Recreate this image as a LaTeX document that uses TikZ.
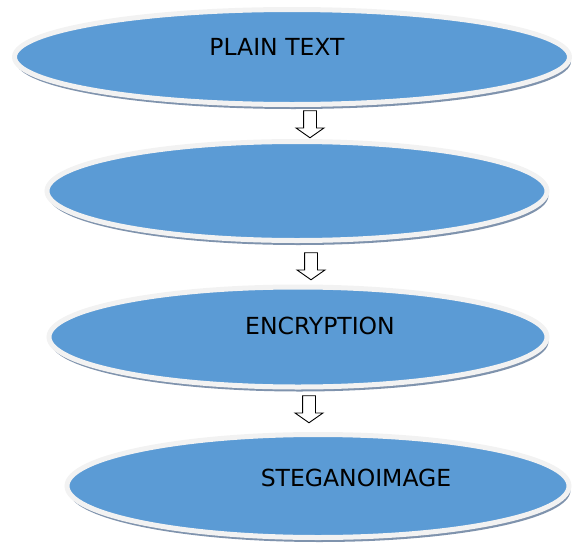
\documentclass[tikz,border=0pt]{standalone}
\usepackage{fontspec}
\setmainfont{DejaVu Sans}
\usetikzlibrary{shapes.geometric,shapes.arrows,shadows}

\definecolor{stageblue}{HTML}{5B9BD5}
\definecolor{rimgray}{HTML}{F2F2F2}
\definecolor{shadowblue}{HTML}{7F93AD}

\begin{document}
\begin{tikzpicture}[x=1pt, y=-1pt,
    stage/.style={ellipse, inner sep=0pt, fill=stageblue, draw=rimgray, line width=5pt,
        general shadow={fill=shadowblue, shadow xshift=1.5pt, shadow yshift=-4.5pt}},
    downarrow/.style={single arrow, draw=black, fill=white, line width=0.9pt,
        shape border rotate=270, inner sep=6pt, minimum width=0pt, minimum height=27pt,
        single arrow head extend=7.5pt, single arrow tip angle=110},
    caption/.style={font=\fontsize{23.5}{27}\selectfont}]
    \useasboundingbox (0, 0) rectangle (574, 552);

    % the four stages
    \node[stage, minimum width=555pt, minimum height=95pt] (plain) at (292, 57) {};
    \node[stage, minimum width=500pt, minimum height=99pt] (blank) at (297, 191) {};
    \node[stage, minimum width=498pt, minimum height=100pt] (encrypt) at (298, 337) {};
    \node[stage, minimum width=502pt, minimum height=103pt] (stego) at (318, 486) {};

    \node[caption] (plaintxt) at (277, 47) {PLAIN TEXT};
    \node[caption] (encrypttxt) at (320, 326) {ENCRYPTION};
    \node[caption] (stegotxt) at (356, 478) {STEGANOIMAGE};

    % hollow arrows in between
    \node[downarrow] (arrowa) at (310, 122) {};
    \node[downarrow] (arrowb) at (311, 264) {};
    \node[downarrow] (arrowc) at (309, 407) {};

\end{tikzpicture}
\end{document}
